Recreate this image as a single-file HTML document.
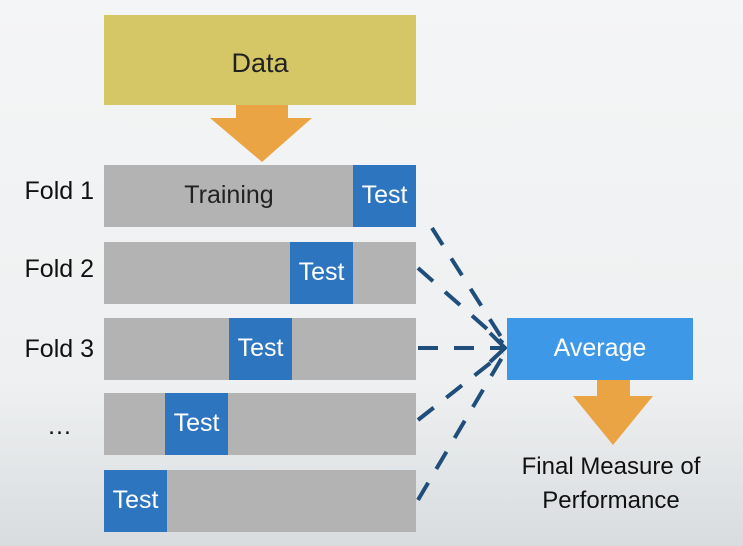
<!DOCTYPE html>
<html><head><style>
body{margin:0;width:743px;height:546px;overflow:hidden;background:linear-gradient(180deg,#f4f5f6 0%,#eef0f1 70%,#d9dcdf 100%);font-family:"Liberation Sans",sans-serif;position:relative}
.a{position:absolute}
.bar{position:absolute;left:104px;width:312px;height:62px;background:#b3b3b3}
.t{position:absolute;top:0;width:63px;height:62px;background:#2e75c0;color:#fff;font-size:25px;line-height:60px;text-align:center}
.lab{position:absolute;left:0;width:94px;text-align:right;font-size:25px;color:#111}
</style></head><body>
<div class="a" style="left:104px;top:15px;width:312px;height:90px;background:#d6c766;font-size:27px;line-height:96px;text-align:center;color:#222">Data</div>
<svg class="a" style="left:0;top:0" width="743" height="546">
<polygon points="236,105 288,105 288,118 312,118 262,162 210,118 236,118" fill="#eba444"/>
<polygon points="597,380 630,380 630,396 653,396 613,445 573,396 597,396" fill="#eba444"/>
<g stroke="#1f4e7a" stroke-width="4" stroke-dasharray="20,16" fill="none">
<line x1="432" y1="228" x2="503" y2="340"/>
<line x1="418" y1="268" x2="503" y2="343"/>
<line x1="418" y1="348" x2="503" y2="348"/>
<line x1="418" y1="420" x2="503" y2="353"/>
<line x1="418" y1="500" x2="503" y2="356"/>
</g>
<polyline points="490,333 505,348 490,362" stroke="#1f4e7a" stroke-width="4" fill="none"/>
</svg>
<div class="bar" style="top:165px"><div class="a" style="left:0;width:250px;text-align:center;font-size:25px;line-height:60px;color:#222">Training</div><div class="t" style="left:249px">Test</div></div>
<div class="bar" style="top:242px"><div class="t" style="left:186px">Test</div></div>
<div class="bar" style="top:318px"><div class="t" style="left:125px">Test</div></div>
<div class="bar" style="top:393px"><div class="t" style="left:61px">Test</div></div>
<div class="bar" style="top:470px"><div class="t" style="left:0">Test</div></div>
<div class="lab" style="top:177px">Fold 1</div>
<div class="lab" style="top:255px">Fold 2</div>
<div class="lab" style="top:335px">Fold 3</div>
<div class="lab" style="top:412px;width:72px">…</div>
<div class="a" style="left:507px;top:318px;width:186px;height:62px;background:#3d98e8;color:#fff;font-size:25px;line-height:60px;text-align:center">Average</div>
<div class="a" style="left:490px;top:450px;width:242px;text-align:center;font-size:24px;line-height:34px;color:#111">Final Measure of<br>Performance</div>
</body></html>
